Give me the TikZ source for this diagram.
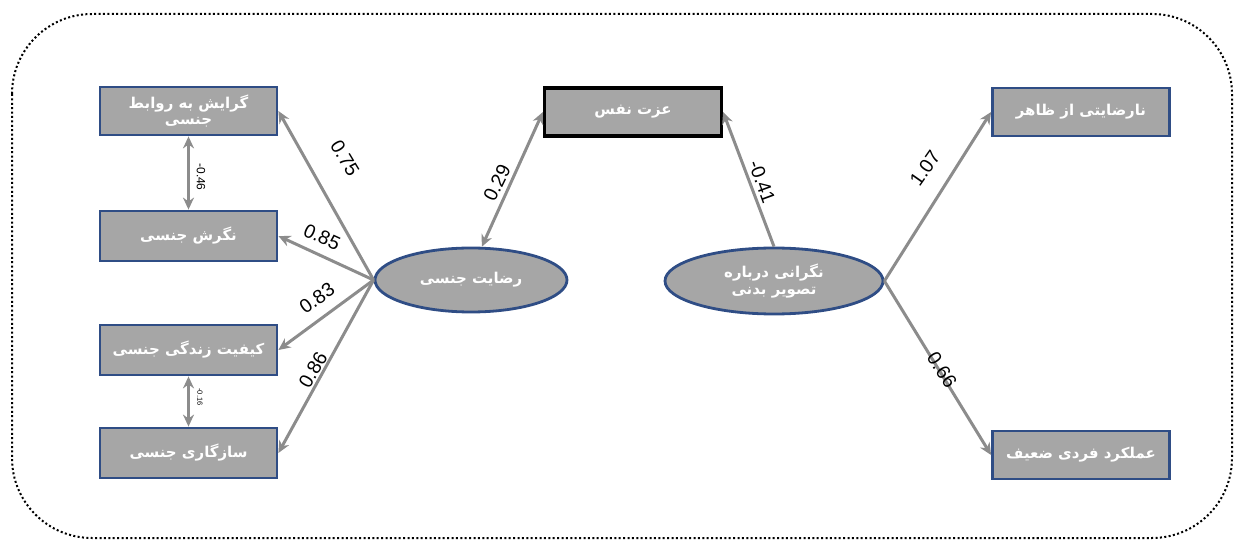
\documentclass[tikz,border=0pt]{standalone}
\usepackage{fontspec}
\setmainfont{Liberation Sans}
\newfontfamily\fa[Script=Arabic]{DejaVu Sans}
\TeXXeTstate=1
\usetikzlibrary{shapes.geometric,arrows.meta}
\definecolor{boxgray}{HTML}{A6A6A6}
\definecolor{boxblue}{HTML}{2F4D85}
\definecolor{arrgray}{HTML}{8C8C8C}
\newcommand{\RL}[1]{\beginR #1\endR}
\begin{document}
\begin{tikzpicture}[x=1bp,y=-1bp,
  bx/.style={draw=boxblue, line width=2.8bp, fill=boxgray, minimum width=177bp, minimum height=48bp, inner sep=0pt, align=center, text=white, font=\fa\bfseries\fontsize{15}{17}\selectfont},
  blackbx/.style={bx, draw=black, line width=3.2bp},
  ell/.style={ellipse, draw=boxblue, line width=2.8bp, fill=boxgray, inner sep=0pt, align=center, text=white, font=\fa\bfseries\fontsize{15}{17}\selectfont},
  arr/.style={draw=arrgray, line width=3bp, -{Stealth[length=12bp,width=11bp]}},
  darr/.style={draw=arrgray, line width=3bp, {Stealth[length=12bp,width=11bp]}-{Stealth[length=12bp,width=11bp]}},
  lbl/.style={font=\fontsize{19.5}{21}\selectfont, inner sep=0pt},
  slbl/.style={font=\fontsize{12}{13}\selectfont, inner sep=0pt},
  frame/.style={draw=black, line width=2bp, dash pattern=on 2bp off 2.4bp, rounded corners=80bp}
]
\useasboundingbox (0,0) rectangle (1236,540);
\draw[frame] (12,14) rectangle (1232,538);

% left boxes
\node[bx] (b1) at (188.5,111) {\RL{گرایش به روابط}\\\RL{جنسی}};
\node[bx, minimum height=50bp] (b2) at (188.5,236) {\RL{نگرش جنسی}};
\node[bx, minimum height=50bp] (b3) at (188.5,350) {\RL{کیفیت زندگی جنسی}};
\node[bx, minimum height=50bp] (b4) at (188.5,453) {\RL{سازگاری جنسی}};

% center box
\node[blackbx] (ns) at (633,112) {\RL{عزت نفس}};

% right boxes
\node[bx] (r1) at (1081,112) {\RL{نارضایتی از ظاهر}};
\node[bx] (r2) at (1081,455) {\RL{عملکرد فردی ضعیف}};

% ellipses
\node[ell, minimum width=192bp, minimum height=64bp] (ls) at (471,280) {\RL{رضایت جنسی}};
\node[ell, minimum width=218bp, minimum height=66bp] (rs) at (774,281) {\RL{نگرانی درباره}\\\RL{تصویر بدنی}};

% connectors
\draw[arr] (ls.west) -- (b1.east);
\draw[arr] (ls.west) -- (b2.east);
\draw[arr] (ls.west) -- (b3.east);
\draw[arr] (ls.west) -- (b4.east);
\draw[darr] (ns.west) -- (ls.72);
\draw[arr] (rs.north) -- (ns.east);
\draw[arr] (rs.east) -- (r1.west);
\draw[arr] (rs.east) -- (r2.west);
\draw[darr] (b1.south) -- (b2.north);
\draw[darr] (b3.south) -- (b4.north);

% labels
\node[lbl, rotate=-59] (l1) at (345,158) {0.75};
\node[lbl, rotate=-25] (l2) at (322,237) {0.85};
\node[lbl, rotate=35] (l3) at (317,298) {0.83};
\node[lbl, rotate=60] (l4) at (313,370) {0.86};
\node[lbl, rotate=64] (l5) at (497,183) {0.29};
\node[lbl, rotate=-70] (l6) at (762,182) {-0.41};
\node[lbl, rotate=55] (l7) at (925,168) {1.07};
\node[lbl, rotate=-57] (l8) at (942,370) {0.66};
\node[slbl, rotate=-90] (l9) at (201,177) {-0.46};
\node[slbl, rotate=-90, font=\fontsize{7.5}{8}\selectfont] (l10) at (200,397) {-0.16};
\end{tikzpicture}
\end{document}
